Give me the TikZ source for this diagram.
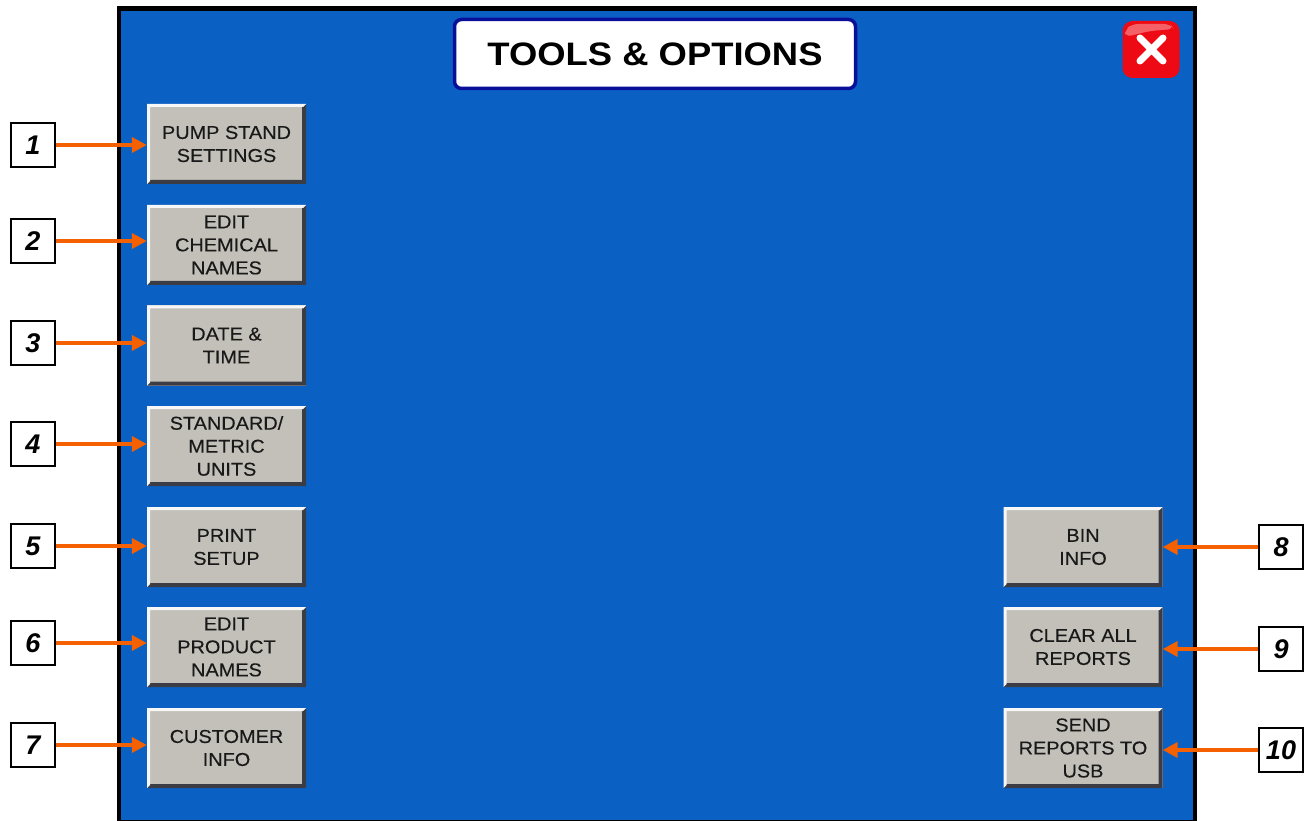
\documentclass[tikz,border=0pt]{standalone}
\usepackage{fontspec}
\setmainfont{Liberation Sans}
\newfontfamily\btnfont[FakeStretch=1.07,FakeBold=0.25]{Liberation Sans}
\newfontfamily\ttlfont[FakeStretch=1.12]{Liberation Sans Bold}
\usetikzlibrary{arrows.meta,calc}
\definecolor{panelblue}{HTML}{0B60C4}
\definecolor{navy}{HTML}{08109A}
\definecolor{btngray}{HTML}{C2C0B8}
\definecolor{btndark}{HTML}{3C3C44}
\definecolor{callout}{HTML}{F56000}
\definecolor{closered}{HTML}{EE0A14}
\tikzset{
  panel/.style={draw=black,line width=4.5pt,fill=panelblue,minimum width=1076pt,minimum height=813.5pt,inner sep=0pt},
  titlebox/.style={draw=navy,line width=3.5pt,fill=white,rounded corners=7pt,minimum width=401pt,minimum height=69pt,inner sep=0pt,font=\ttlfont\fontsize{32.5}{36}\selectfont},
  btn/.style={fill=btngray,minimum width=159pt,minimum height=80pt,inner sep=0pt,align=center,
    font=\btnfont\fontsize{18.6}{23}\selectfont,text=black!90,
    path picture={
      \fill[btndark] (path picture bounding box.south west) -- (path picture bounding box.south east) -- (path picture bounding box.north east) -- ([xshift=-4pt,yshift=-2pt]path picture bounding box.north east) -- ([xshift=-4pt,yshift=4pt]path picture bounding box.south east) -- ([xshift=2pt,yshift=4pt]path picture bounding box.south west) -- cycle;
      \fill[white!88!btngray] (path picture bounding box.south west) -- (path picture bounding box.north west) -- (path picture bounding box.north east) -- ([xshift=-3pt,yshift=-3pt]path picture bounding box.north east) -- ([xshift=3pt,yshift=-3pt]path picture bounding box.north west) -- ([xshift=3pt,yshift=3pt]path picture bounding box.south west) -- cycle;
    }},
  numbox/.style={draw=black,line width=2.5pt,fill=white,minimum size=44pt,inner sep=0pt,font=\fontsize{27}{30}\selectfont\bfseries\itshape},
  callarrow/.style={draw=callout,line width=4pt,-{Triangle[length=15pt,width=15pt,fill=callout]}},
  closebox/.style={fill=closered,rounded corners=10pt,minimum size=57pt,inner sep=0pt}
}
\begin{document}
\begin{tikzpicture}[x=1pt,y=-1pt]
\useasboundingbox (0,0) rectangle (1310,821);
\node[panel] (screen) at (657,415.25) {};
\node[titlebox] (title) at (655,54) {TOOLS \& OPTIONS};
\node[closebox] (close) at (1151,49.5) {};
\fill[white!35!closered,rounded corners=6pt] (1125,37) -- (1125,30) -- (1132,24) -- (1170,24) -- (1174,29) -- (1150,31) -- cycle;
\draw[white,line width=7pt,line cap=round] (1140,38) -- (1163,61) (1163,38) -- (1140,61);
\node[btn] (b1) at (226.5,144) {PUMP STAND\\SETTINGS};
\node[btn] (b2) at (226.5,245) {EDIT\\CHEMICAL\\NAMES};
\node[btn] (b3) at (226.5,345.5) {DATE \&\\TIME};
\node[btn] (b4) at (226.5,446) {STANDARD/\\METRIC\\UNITS};
\node[btn] (b5) at (226.5,547) {PRINT\\SETUP};
\node[btn] (b6) at (226.5,647) {EDIT\\PRODUCT\\NAMES};
\node[btn] (b7) at (226.5,748) {CUSTOMER\\INFO};
\node[btn] (b8) at (1083,547) {BIN\\INFO};
\node[btn] (b9) at (1083,647) {CLEAR ALL\\REPORTS};
\node[btn] (b10) at (1083,748) {SEND\\REPORTS TO\\USB};
\node[numbox] (n1) at (33,145) {1};
\node[numbox] (n2) at (33,241) {2};
\node[numbox] (n3) at (33,343) {3};
\node[numbox] (n4) at (33,444) {4};
\node[numbox] (n5) at (33,546) {5};
\node[numbox] (n6) at (33,643) {6};
\node[numbox] (n7) at (33,745) {7};
\node[numbox] (n8) at (1281,547) {8};
\node[numbox] (n9) at (1281,649) {9};
\node[numbox] (n10) at (1281,750) {10};
\foreach \i in {1,...,7}{
  \draw[callarrow] (n\i) -- (n\i -| b\i.west);
}
\foreach \i in {8,9,10}{
  \draw[callarrow] (n\i) -- (n\i -| b\i.east);
}
\end{tikzpicture}
\end{document}
